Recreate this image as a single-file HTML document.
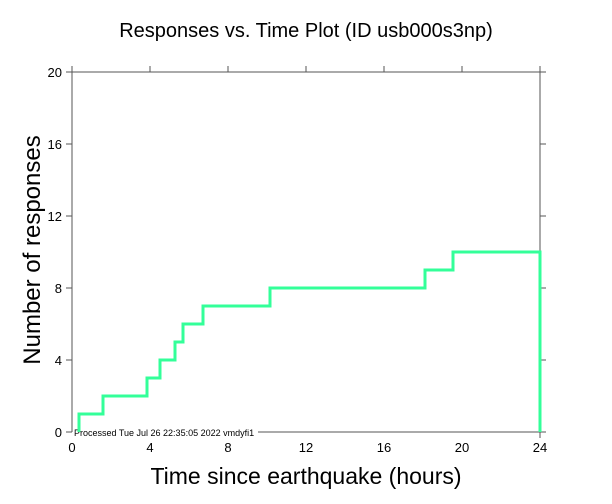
<!DOCTYPE html><html><head><style>body{margin:0;background:#fff}svg{display:block}text{font-family:"Liberation Sans",sans-serif}</style></head><body>
<svg width="612" height="504" xmlns="http://www.w3.org/2000/svg">
<rect width="612" height="504" fill="#fff"/>
<text x="306" y="37" font-size="20" text-anchor="middle">Responses vs. Time Plot (ID usb000s3np)</text>
<g stroke="#555" stroke-width="1" fill="none">
<line x1="72" y1="72" x2="540" y2="72"/>
<line x1="72" y1="72" x2="72" y2="432"/>
<line x1="540" y1="72" x2="540" y2="432"/>
<line x1="258" y1="432" x2="540" y2="432"/>
<line x1="66" y1="432" x2="72" y2="432"/>
<line x1="66" y1="360" x2="72" y2="360"/><line x1="66" y1="288" x2="72" y2="288"/><line x1="66" y1="216" x2="72" y2="216"/><line x1="66" y1="144" x2="72" y2="144"/><line x1="66" y1="72" x2="72" y2="72"/>
<line x1="540" y1="360" x2="546" y2="360"/><line x1="540" y1="288" x2="546" y2="288"/><line x1="540" y1="216" x2="546" y2="216"/><line x1="540" y1="144" x2="546" y2="144"/><line x1="540" y1="72" x2="546" y2="72"/><line x1="540" y1="432" x2="546" y2="432"/>
<line x1="150" y1="66" x2="150" y2="72"/><line x1="228" y1="66" x2="228" y2="72"/><line x1="306" y1="66" x2="306" y2="72"/><line x1="384" y1="66" x2="384" y2="72"/><line x1="462" y1="66" x2="462" y2="72"/><line x1="540" y1="66" x2="540" y2="72"/><line x1="72" y1="66" x2="72" y2="72"/>
<line x1="540" y1="432" x2="540" y2="438"/>
</g>
<g font-size="13" text-anchor="end">
<text x="62" y="437">0</text><text x="62" y="365">4</text><text x="62" y="293">8</text><text x="62" y="221">12</text><text x="62" y="149">16</text><text x="62" y="77">20</text>
</g>
<g font-size="13" text-anchor="middle">
<text x="72" y="452">0</text><text x="150" y="452">4</text><text x="228" y="452">8</text><text x="306" y="452">12</text><text x="384" y="452">16</text><text x="462" y="452">20</text><text x="540" y="452">24</text>
</g>
<text x="74" y="436" font-size="9">Processed Tue Jul 26 22:35:05 2022 vmdyfi1</text>
<text x="306" y="484" font-size="23" text-anchor="middle">Time since earthquake (hours)</text>
<text transform="translate(40,250) rotate(-90)" font-size="24" text-anchor="middle">Number of responses</text>
<polyline fill="none" stroke="#33ff99" stroke-width="3" points="79,432 79,414 103,414 103,396 147,396 147,378 160,378 160,360 175,360 175,342 183,342 183,324 203,324 203,306 270,306 270,288 425,288 425,270 453,270 453,252 540,252 540,432"/>
</svg></body></html>
